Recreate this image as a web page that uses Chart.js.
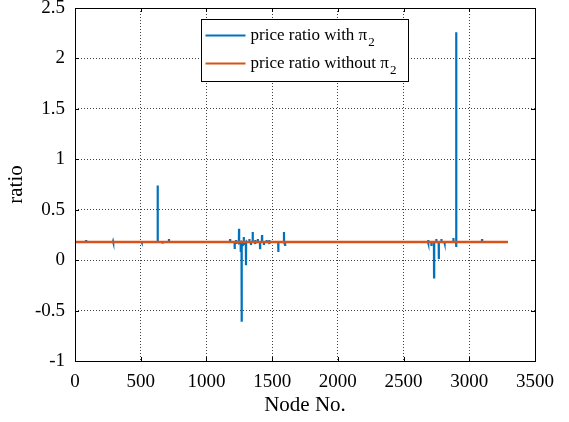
<!DOCTYPE html>
<html>
<head>
<meta charset="utf-8">
<script src="https://cdn.jsdelivr.net/npm/chart.js@4/dist/chart.umd.min.js"></script>
<style>
  html, body { margin: 0; padding: 0; background: #fff; }
</style>
</head>
<body>
<canvas id="ratioChart" width="569" height="422"></canvas>
<script>
// price ratio with pi_2 (blue)
const withNodes = [
  1,
  83, 84, 85, 86,
  289, 290, 291,
  506, 507, 508, 509,
  628, 629, 630,
  666, 667, 668,
  714, 715, 716,
  1179, 1180, 1181,
  1214, 1215, 1216,
  1224, 1225, 1226,
  1247, 1248, 1249,
  1260, 1261, 1262,
  1267, 1268, 1269,
  1283, 1284, 1285,
  1300, 1301, 1302,
  1326, 1327, 1328,
  1338, 1339, 1340,
  1351, 1352, 1353,
  1370, 1371, 1372, 1373,
  1390, 1391, 1392,
  1407, 1408, 1409,
  1422, 1423, 1424,
  1437, 1438, 1439,
  1457, 1458, 1459,
  1477, 1478, 1479, 1480,
  1507, 1508, 1509,
  1546, 1547, 1548,
  1589, 1590, 1591,
  1597, 1598, 1599,
  2686, 2687, 2688, 2689,
  2711, 2712, 2713,
  2731, 2732, 2733,
  2748, 2749, 2750,
  2767, 2768, 2769,
  2787, 2788, 2789,
  2810, 2811, 2812, 2813,
  2840, 2841, 2842,
  2878, 2879, 2880,
  2899, 2900, 2901, 2902,
  3096, 3097, 3098,
  3293
];
const withRatio = [
  0.18,
  0.18, 0.20, 0.17, 0.18,
  0.18, 0.185, 0.18,
  0.18, 0.185, 0.175, 0.18,
  0.18, 0.74, 0.18,
  0.18, 0.165, 0.18,
  0.18, 0.21, 0.18,
  0.18, 0.21, 0.18,
  0.18, 0.11, 0.18,
  0.18, 0.20, 0.17,
  0.18, 0.31, 0.17,
  0.18, 0.08, 0.18,
  0.18, -0.61, 0.18,
  0.18, 0.23, 0.16,
  0.18, -0.05, 0.18,
  0.18, 0.21, 0.18,
  0.18, 0.15, 0.18,
  0.18, 0.28, 0.18,
  0.18, 0.20, 0.16, 0.18,
  0.18, 0.21, 0.18,
  0.18, 0.12, 0.18,
  0.18, 0.25, 0.18,
  0.18, 0.15, 0.18,
  0.18, 0.20, 0.18,
  0.18, 0.20, 0.16, 0.18,
  0.18, 0.19, 0.18,
  0.18, 0.08, 0.18,
  0.18, 0.28, 0.18,
  0.18, 0.15, 0.18,
  0.18, 0.20, 0.17, 0.18,
  0.18, 0.14, 0.18,
  0.18, -0.17, 0.18,
  0.18, 0.21, 0.18,
  0.18, 0.01, 0.18,
  0.18, 0.21, 0.18,
  0.18, 0.19, 0.17, 0.18,
  0.18, 0.19, 0.18,
  0.18, 0.22, 0.18,
  0.18, 2.26, 0.13, 0.18,
  0.18, 0.21, 0.18,
  0.18
];

// price ratio without pi_2 (orange), flat
const withoutNodes = [1, 3293];
const withoutRatio = [0.18, 0.18];

const xTicks = [0, 500, 1000, 1500, 2000, 2500, 3000, 3500];
const yTicks = [-1, -0.5, 0, 0.5, 1, 1.5, 2, 2.5];

const seriesLabels = ['price ratio with \u03C0', 'price ratio without \u03C0'];
const seriesSub = '2';
const seriesColors = ['#0072BD', '#D95319'];

Chart.defaults.font.family = '"Liberation Serif", "Times New Roman", serif';
Chart.defaults.color = '#000';

// box round the axes, with inward tick marks like matlab
const frame = {
  id: 'frame',
  afterDatasetsDraw(chart) {
    const { ctx, chartArea: a, scales } = chart;
    ctx.save();
    ctx.strokeStyle = '#000';
    ctx.lineWidth = 1;
    ctx.strokeRect(Math.round(a.left) + 0.5, Math.round(a.top) + 0.5,
      Math.round(a.right - a.left), Math.round(a.bottom - a.top));
    ctx.beginPath();
    const len = 4;
    xTicks.forEach(v => {
      const px = Math.round(scales.x.getPixelForValue(v)) + 0.5;
      ctx.moveTo(px, a.bottom); ctx.lineTo(px, a.bottom - len);
      ctx.moveTo(px, a.top); ctx.lineTo(px, a.top + len);
    });
    yTicks.forEach(v => {
      const py = Math.round(scales.y.getPixelForValue(v)) + 0.5;
      ctx.moveTo(a.left, py); ctx.lineTo(a.left + len, py);
      ctx.moveTo(a.right, py); ctx.lineTo(a.right - len, py);
    });
    ctx.stroke();
    ctx.restore();
  }
};

// legend with a subscript, drawn by hand
const legendBox = {
  id: 'legendBox',
  afterDraw(chart) {
    const { ctx, chartArea: a } = chart;
    const x = Math.round(a.left + 126) + 0.5;
    const y = Math.round(a.top + 11) + 0.5;
    const w = 207, h = 62;
    ctx.save();
    ctx.fillStyle = '#fff';
    ctx.fillRect(x, y, w, h);
    ctx.strokeStyle = '#000';
    ctx.lineWidth = 1;
    ctx.strokeRect(x, y, w, h);
    seriesLabels.forEach((lab, i) => {
      const cy = y + 16 + i * 28;
      ctx.strokeStyle = seriesColors[i];
      ctx.lineWidth = 2;
      ctx.beginPath();
      ctx.moveTo(x + 4, cy);
      ctx.lineTo(x + 44, cy);
      ctx.stroke();
      ctx.fillStyle = '#000';
      ctx.textBaseline = 'middle';
      ctx.font = '17px "Liberation Serif"';
      ctx.fillText(lab, x + 49, cy);
      const tw = ctx.measureText(lab).width;
      ctx.font = '13px "Liberation Serif"';
      ctx.fillText(seriesSub, x + 49 + tw + 1, cy + 7);
    });
    ctx.restore();
  }
};

new Chart(document.getElementById('ratioChart').getContext('2d'), {
  type: 'line',
  data: {
    datasets: [{
      label: seriesLabels[1] + seriesSub,
      data: withoutNodes.map((n, i) => ({ x: n, y: withoutRatio[i] })),
      borderColor: seriesColors[1],
      borderWidth: 2.5,
      pointRadius: 0,
      tension: 0,
      order: 0
    }, {
      label: seriesLabels[0] + seriesSub,
      data: withNodes.map((n, i) => ({ x: n, y: withRatio[i] })),
      borderColor: seriesColors[0],
      borderWidth: 2.2,
      pointRadius: 0,
      tension: 0,
      order: 1
    }]
  },
  options: {
    responsive: false,
    animation: false,
    devicePixelRatio: 1,
    layout: { padding: { top: 8, right: 34, left: 0, bottom: 0 } },
    plugins: {
      legend: { display: false },
      tooltip: { enabled: false }
    },
    scales: {
      x: {
        type: 'linear',
        min: 0,
        max: 3500,
        afterBuildTicks: s => { s.ticks = xTicks.map(v => ({ value: v })); },
        afterFit: s => { s.height = 61; s.paddingLeft = 0; s.paddingRight = 0; },
        ticks: { font: { size: 19 }, padding: 10, maxRotation: 0, callback: v => String(v) },
        grid: { color: 'rgba(0,0,0,0.75)', drawTicks: false, lineWidth: 1 },
        border: { display: false, dash: [1, 2] },
        title: { display: true, text: 'Node No.', font: { size: 21 }, padding: { top: 0, bottom: 4 } }
      },
      y: {
        type: 'linear',
        min: -1,
        max: 2.5,
        afterBuildTicks: s => { s.ticks = yTicks.map(v => ({ value: v })); },
        afterFit: s => { s.width = 75; s.paddingTop = 0; s.paddingBottom = 0; },
        ticks: { font: { size: 19 }, padding: 10, callback: v => String(v) },
        grid: { color: 'rgba(0,0,0,0.75)', drawTicks: false, lineWidth: 1 },
        border: { display: false, dash: [1, 2] },
        title: { display: true, text: 'ratio', font: { size: 21 }, padding: { top: 4, bottom: 0 } }
      }
    }
  },
  plugins: [frame, legendBox]
});
</script>
</body>
</html>
